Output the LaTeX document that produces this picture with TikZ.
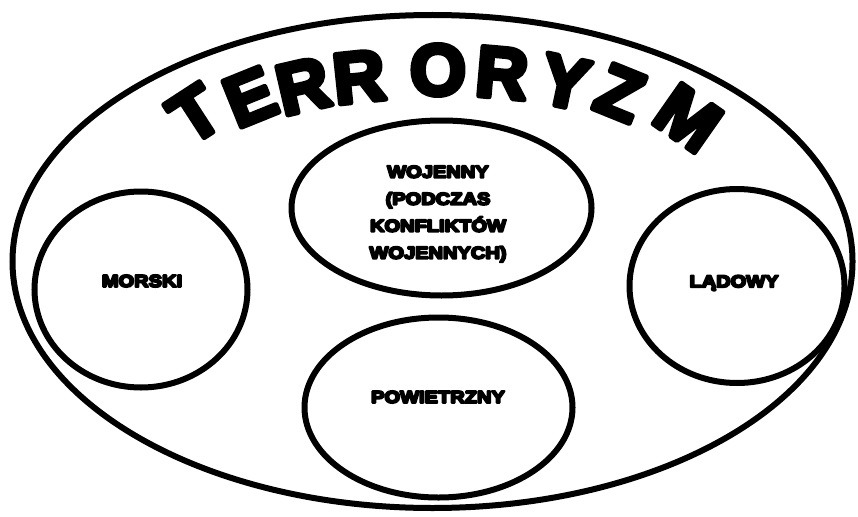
\documentclass[tikz,border=0pt]{standalone}
\usepackage{fontspec}
\usetikzlibrary{shapes.geometric}
\newfontfamily\titlefont{Liberation Sans Bold}
\newfontfamily\labelfont{Liberation Sans Bold}[FakeStretch=1.18]
\newcommand\heavyink[2]{\special{pdf:literal direct #1 w 1 j 2 Tr}#2\special{pdf:literal direct 0 Tr}}
\begin{document}
\begin{tikzpicture}[x=1pt, y=-1pt,
  oval/.style={ellipse, draw, line width=6pt, inner sep=0pt},
  letter/.style={inner sep=0pt, font=\fontsize{72}{72}\titlefont},
  lbl/.style={inner sep=0pt, align=center, font=\fontsize{17}{27}\labelfont}]
\useasboundingbox (0,0) rectangle (858,516);
\node[oval, minimum width=840pt, minimum height=493pt] (outer) at (432.5,261.5) {};
\node[oval, minimum width=300pt, minimum height=175pt] (wojenny) at (441.5,208) {};
\node[oval, minimum width=213pt, minimum height=196pt] (morski) at (141,289.5) {};
\node[oval, minimum width=215pt, minimum height=194pt] (ladowy) at (737,286) {};
\node[oval, minimum width=268pt, minimum height=180pt] (powietrzny) at (438.5,407.5) {};
% title
\node[letter, rotate=33]  (t1) at (195,114) {\heavyink{5}{T}};
\node[letter, rotate=22]  (t2) at (250,97) {\heavyink{5}{E}};
\node[letter, rotate=13]  (t3) at (303,86) {\heavyink{5}{R}};
\node[letter, rotate=6]   (t4) at (359,77) {\heavyink{5}{R}};
\node[letter, rotate=0]   (t5) at (438,70) {\heavyink{5}{O}};
\node[letter, rotate=-5]  (t6) at (502,73) {\heavyink{5}{R}};
\node[letter, rotate=-12] (t7) at (565,82) {\heavyink{5}{Y}};
\node[letter, rotate=-22] (t8) at (620,93) {\heavyink{5}{Z}};
\node[letter, rotate=-35] (t9) at (688,118) {\heavyink{5}{M}};
% labels
\node[lbl] (lwoj) at (438,214) {\heavyink{2}{WOJENNY}\\\heavyink{2}{(PODCZAS}\\\heavyink{2}{KONFLIKTÓW}\\\heavyink{2}{WOJENNYCH)}};
\node[lbl] (lmor) at (142,281) {\heavyink{2}{MORSKI}};
\node[lbl] (llad) at (734,283) {\heavyink{2}{LĄDOWY}};
\node[lbl] (lpow) at (438,397) {\heavyink{2}{POWIETRZNY}};
\end{tikzpicture}
\end{document}
